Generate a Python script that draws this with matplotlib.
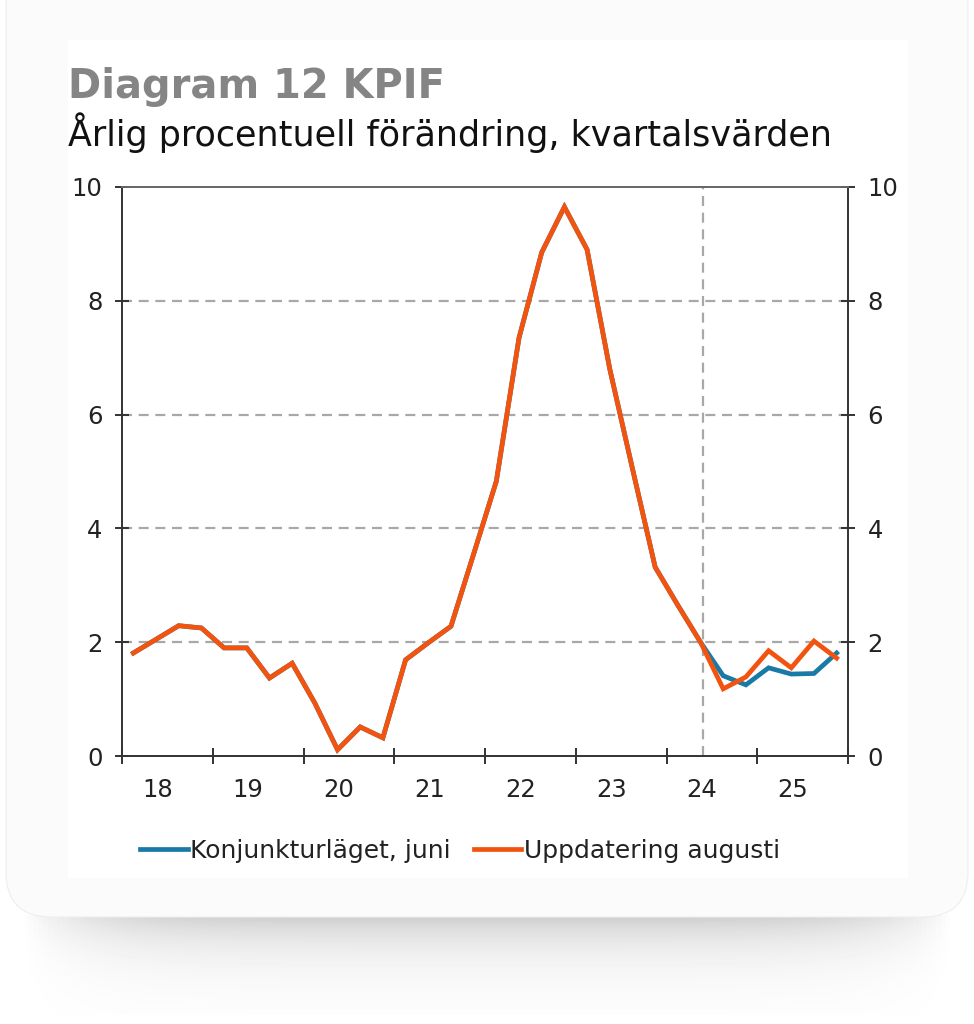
import numpy as np
import matplotlib.pyplot as plt
from matplotlib.patches import FancyBboxPatch, Rectangle

# quarterly values 2018Q1 - 2025Q4
quarters = [f'{y}Q{q}' for y in range(2018, 2026) for q in range(1, 5)]
history = [1.81, 2.05, 2.29, 2.25, 1.90, 1.90, 1.37, 1.63,
           0.93, 0.11, 0.51, 0.32, 1.69, 1.99, 2.28, 3.55,
           4.83, 7.35, 8.85, 9.65, 8.90, 6.80, 5.05, 3.32,
           2.65, 2.00]
forecast_juni = [1.41, 1.25, 1.55, 1.44, 1.45, 1.81]
forecast_aug = [1.18, 1.39, 1.85, 1.55, 2.02, 1.72]
year_labels = ['18', '19', '20', '21', '22', '23', '24', '25']
forecast_start = 2024.4

juni = history + forecast_juni
aug = history + forecast_aug
x = np.array([int(q[:4]) + (int(q[-1]) - 0.5) / 4 for q in quarters])

W, H = 974, 1024
fig = plt.figure(figsize=(W / 100, H / 100), dpi=100)
fig.patch.set_facecolor('white')

# card background + soft shadow underneath
bg = fig.add_axes([0, 0, 1, 1])
bg.set_xlim(0, W)
bg.set_ylim(H, 0)
bg.axis('off')
gx = np.linspace(-1, 1, 200)
gy = np.linspace(0, 1, 100)
GX, GY = np.meshgrid(gx, gy)
shade = np.exp(-3 * GY) * np.clip(1 - GX ** 6, 0, 1)
bg.imshow(1 - 0.2 * shade, cmap='gray', vmin=0, vmax=1, aspect='auto',
          extent=[20, 955, 1015, 915], zorder=0)
bg.add_patch(FancyBboxPatch((6, -40), 962, 957, boxstyle='round,pad=0,rounding_size=45',
                            facecolor='#fbfbfb', edgecolor='#eeeeee', lw=0.8, zorder=1))
bg.add_patch(Rectangle((68, 40), 840, 838, facecolor='white', edgecolor='none', zorder=2))

ax = fig.add_axes([122 / W, 1 - 756 / H, 726 / W, 569 / H])
ax.set_facecolor('none')

grid_col = '#a8a8a8'
for v in [2, 4, 6, 8]:
    ax.axhline(v, color=grid_col, lw=1.6, ls=(0, (4.5, 3)), zorder=1)
ax.axvline(forecast_start, ymin=0, ymax=1, color=grid_col, lw=1.6, ls=(0, (4.5, 3)), zorder=1)

ax.plot(x, juni, color='#1a7aa6', lw=3.4, solid_joinstyle='miter', label='Konjunkturläget, juni', zorder=3)
ax.plot(x, aug, color='#f2530f', lw=3.4, solid_joinstyle='miter', label='Uppdatering augusti', zorder=4)

ax.set_xlim(2018, 2026)
ax.set_ylim(0, 10)
ax.set_yticks(range(0, 11, 2))
ax.set_xticks(range(2018, 2027))
ax.set_xticklabels([])
# year labels sit a little left of mid-year in the original
ax.set_xticks(np.arange(2018.5, 2026) - 0.11, minor=True)
ax.set_xticklabels(year_labels, minor=True)

for s in ['left', 'right', 'bottom', 'top']:
    ax.spines[s].set_color('#333333')
    ax.spines[s].set_linewidth(1.4)
ax.spines['top'].set_color('#666666')

ax.tick_params(axis='y', which='major', direction='inout', length=10, width=1.4, color='#333333',
               labelsize=17.5, labelcolor='#222222', left=True, right=True, labelleft=True,
               labelright=True, pad=9)
ax.tick_params(axis='x', which='major', direction='inout', length=12, width=1.4, color='#333333')
ax.tick_params(axis='x', which='minor', length=0, labelsize=17.5, labelcolor='#222222', pad=16)

fig.text(68 / W, 1 - 98 / H, 'Diagram 12 KPIF', fontsize=28.8, fontweight='bold', color='#858585')
fig.text(68 / W, 1 - 146 / H, 'Årlig procentuell förändring, kvartalsvärden', fontsize=25.2, color='#111111')

leg = ax.legend(loc='center', bbox_to_anchor=(460 / W, 1 - 851 / H), bbox_transform=fig.transFigure,
                ncol=2, frameon=False, fontsize=18, handlelength=1.9, handletextpad=0.1,
                columnspacing=0.9)
for t in leg.get_texts():
    t.set_color('#222222')

fig.savefig('out.png', dpi=100, facecolor='white')
